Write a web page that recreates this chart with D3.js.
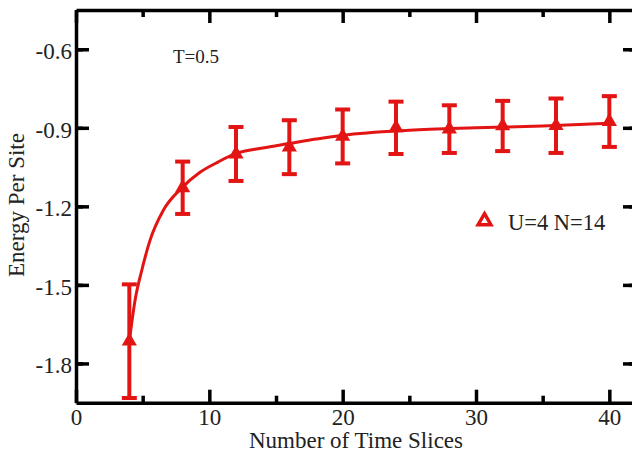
<!DOCTYPE html>
<html>
<head>
<meta charset="utf-8">
<script src="https://cdn.jsdelivr.net/npm/d3@7"></script>
<style>
  body { margin: 0; background: #fff; }
</style>
</head>
<body>
<div class="chart"></div>
<script>
// measured points (time slices, energy, error bar half-length)
const slices = [4, 8, 12, 16, 20, 24, 28, 32, 36, 40];
const energy = [-1.715, -1.129, -1.0, -0.974, -0.933, -0.9, -0.905, -0.893, -0.892, -0.876];
const errors = [0.217, 0.1, 0.103, 0.103, 0.103, 0.1, 0.091, 0.096, 0.104, 0.097];

// fit curve
const fitSlices = [4, 4.43, 4.93, 5.55, 6.55, 7.93, 9.3, 10.68, 12, 14, 16, 18, 20, 25, 30, 35, 40];
const fitEnergy = [-1.715, -1.559, -1.445, -1.33, -1.215, -1.13, -1.07, -1.03, -0.998, -0.977, -0.96, -0.943, -0.928, -0.909, -0.9, -0.893, -0.883];

const xTicks = [0, 10, 20, 30, 40];
const yTicks = [-1.8, -1.5, -1.2, -0.9, -0.6];

const width = 632;
const height = 453;
const red = '#e31414';
const font = 'Liberation Serif, serif';

const svg = d3.select('.chart')
  .append('svg')
  .attr('width', width)
  .attr('height', height);

const x = d3.scaleLinear().domain([0, 42]).range([76, 636]);
const y = d3.scaleLinear().domain([-1.95, -0.45]).range([402.7, 10]);

const data = slices.map((n, i) => ({ n: n, e: energy[i], err: errors[i] }));
const fit = fitSlices.map((n, i) => ({ n: n, e: fitEnergy[i] }));

// plain hyphen instead of unicode minus
const fmt = d => String(d);

//eixos
const minorX = d3.range(5, 42, 10);
const minorY = d3.range(-1.95, -0.45, 0.3).map(v => v + 0.15).filter(v => v < -0.45);

function drawAxis(axis, pos, minor, major, labels) {
  const g = svg.append('g')
    .attr('transform', pos)
    .call(axis.tickValues(major).tickSize(-13).tickSizeOuter(0).tickPadding(labels ? 5 : 0)
      .tickFormat(labels ? fmt : ''));
  g.select('.domain').attr('stroke', '#000').attr('stroke-width', 3.5);
  g.selectAll('.tick line').attr('stroke', '#000').attr('stroke-width', 3.5);
  g.selectAll('.tick text')
    .attr('font-family', font)
    .attr('font-size', '23px')
    .attr('fill', '#222');
  const m = svg.append('g')
    .attr('transform', pos)
    .call(axis.tickValues(minor).tickSize(-7).tickFormat(''));
  m.select('.domain').remove();
  m.selectAll('.tick line').attr('stroke', '#000').attr('stroke-width', 3.5);
  return g;
}

const gx = drawAxis(d3.axisBottom(x), `translate(0,${y(-1.95)})`, minorX, xTicks, true);
gx.selectAll('.tick text').attr('dy', '0.71em').attr('y', 6);
drawAxis(d3.axisTop(x), `translate(0,${y(-0.45)})`, minorX, xTicks, false);
const gy = drawAxis(d3.axisLeft(y), `translate(${x(0)},0)`, minorY, yTicks, true);
gy.selectAll('.tick text').attr('x', -4).attr('dy', '0.4em');
drawAxis(d3.axisRight(y), `translate(${x(42)},0)`, minorY, yTicks, false);

//curva
const line = d3.line()
  .x(d => x(d.n))
  .y(d => y(d.e))
  .curve(d3.curveMonotoneX);

svg.append('path')
  .datum(fit)
  .attr('fill', 'none')
  .attr('stroke', red)
  .attr('stroke-width', 3)
  .attr('d', line);

//barras de erro
const bars = svg.selectAll('.err')
  .data(data)
  .enter().append('g')
  .attr('class', 'err')
  .attr('stroke', red)
  .attr('stroke-width', 4);

bars.append('line')
  .attr('x1', d => x(d.n)).attr('x2', d => x(d.n))
  .attr('y1', d => y(d.e + d.err)).attr('y2', d => y(d.e - d.err));

bars.append('line')
  .attr('x1', d => x(d.n) - 7.5).attr('x2', d => x(d.n) + 7.5)
  .attr('y1', d => y(d.e + d.err)).attr('y2', d => y(d.e + d.err));

bars.append('line')
  .attr('x1', d => x(d.n) - 7.5).attr('x2', d => x(d.n) + 7.5)
  .attr('y1', d => y(d.e - d.err)).attr('y2', d => y(d.e - d.err));

//marcadores
const tri = d3.symbol().type(d3.symbolTriangle).size(100);

svg.selectAll('.pt')
  .data(data)
  .enter().append('path')
  .attr('class', 'pt')
  .attr('transform', d => `translate(${x(d.n)},${y(d.e)})`)
  .attr('fill', red)
  .attr('d', tri);

//textos
svg.append('text')
  .attr('x', 173)
  .attr('y', 63)
  .attr('font-family', font)
  .attr('font-size', '19px')
  .attr('fill', '#222')
  .text('T=0.5');

svg.append('path')
  .attr('transform', 'translate(484.5,221)')
  .attr('fill', '#fff')
  .attr('stroke', red)
  .attr('stroke-width', 3.5)
  .attr('d', d3.symbol().type(d3.symbolTriangle).size(70)());

svg.append('text')
  .attr('x', 508)
  .attr('y', 230)
  .attr('font-family', font)
  .attr('font-size', '22.5px')
  .attr('fill', '#222')
  .text('U=4 N=14');

svg.append('text')
  .attr('x', 356)
  .attr('y', 448)
  .attr('text-anchor', 'middle')
  .attr('font-family', font)
  .attr('font-size', '23px')
  .attr('fill', '#222')
  .text('Number of Time Slices');

svg.append('text')
  .attr('transform', 'translate(24,205) rotate(-90)')
  .attr('text-anchor', 'middle')
  .attr('font-family', font)
  .attr('font-size', '23px')
  .attr('fill', '#222')
  .text('Energy Per Site');
</script>
</body>
</html>
